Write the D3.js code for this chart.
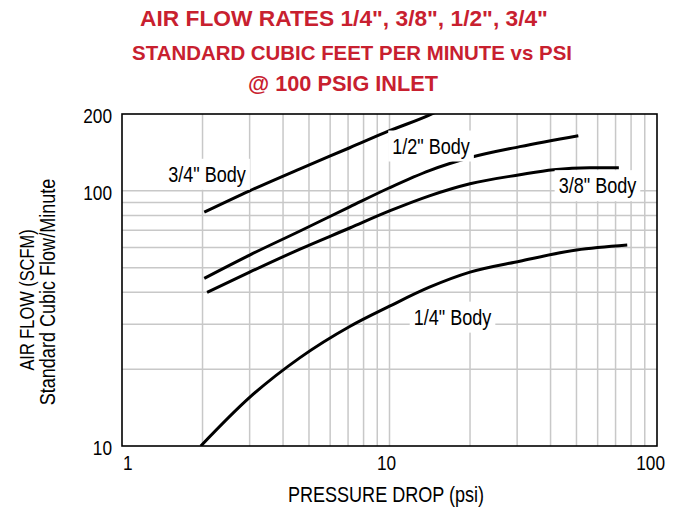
<!DOCTYPE html>
<html><head><meta charset="utf-8">
<script src="https://cdn.jsdelivr.net/npm/d3@7"></script>
<style>body{margin:0;background:#fff}</style>
</head><body>
<svg id="chart" width="681" height="507"></svg>
<script>
// ---------- data ----------
const titleLines = ['AIR FLOW RATES 1/4", 3/8", 1/2", 3/4"',
                    'STANDARD CUBIC FEET PER MINUTE vs PSI',
                    '@ 100 PSIG INLET'];
const xTickValues = [1, 10, 100];
const yTickValues = [10, 100, 200];
const xGridValues = [2,3,4,5,6,7,8,9,10,20,30,40,50,60,70,80,90];
const yGridValues = [20,30,40,50,60,70,80,90,100];
const xTitle = "PRESSURE DROP (psi)";
const yTitle1 = "AIR FLOW (SCFM)";
const yTitle2 = "Standard Cubic Flow/Minute";

const seriesNames = ['3/4" Body', '1/2" Body', '3/8" Body', '1/4" Body'];
const body34 = [[2.03,82.5],[3,100],[4.63,122],[7.1,147.5],[10,172],[14.8,203],[16,212]];
const body12 = [[2.03,45.4],[3,56],[4.63,69.6],[7.1,86.5],[10,102.8],[14.1,120],[20,135],[30.7,149],[50.8,164.5]];
const body38 = [[2.08,40],[3,48],[4.63,59.1],[7.1,71.5],[10,83.4],[14.1,95.6],[20,106.6],[30.7,115.6],[41,121],[56,123.2],[72,123.2]];
const body14 = [[1.97,10],[3,15.5],[4.63,22.2],[7.1,29.4],[10,35.3],[14.1,41.9],[20,48],[30.7,53],[50,58.6],[77.4,61.3]];
const seriesData = [body34, body12, body38, body14];
// label anchor (centre x, baseline y) in data units
const labelX = [2.08, 14.3, 59.9, 17.2];
const labelY = [108.5, 140, 97.9, 29.9];

// ---------- setup ----------
const svg = d3.select("#chart");
const W = 681, H = 507;
const x = d3.scaleLog().domain([1,100]).range([122,657]);
const y = d3.scaleLog().domain([10,200]).range([446,114]);

// narrow font detection
const cv = document.createElement("canvas").getContext("2d");
cv.font = '22px "Liberation Sans Narrow", monospace';
const wN = cv.measureText("Standard Body").width;
cv.font = '22px monospace';
const wM = cv.measureText("Standard Body").width;
const narrowOK = Math.abs(wN - wM) > 0.5;
const FONT = narrowOK ? '"Liberation Sans Narrow", "Arial Narrow", sans-serif' : '"Liberation Sans", Arial, sans-serif';
function narrowize(sel){
  if (narrowOK) return;
  sel.each(function(){
    const w = this.getComputedTextLength();
    d3.select(this).attr("textLength", w*0.82).attr("lengthAdjust","spacingAndGlyphs");
  });
}

svg.append("rect").attr("width",W).attr("height",H).attr("fill","#fff");

// title (font size adjusted so each line spans about the reference width)
const titleWidths = [408, 440, 190];
svg.append("g").selectAll("text").data(titleLines).join("text")
  .attr("x", (d,i)=>[344,352,343][i]).attr("y", (d,i)=>[26,60,91][i])
  .attr("text-anchor","middle")
  .attr("font-family", FONT).attr("font-weight","bold").attr("font-size",26)
  .attr("fill","#c8202f")
  .text(d=>d)
  .each(function(d,i){
    const w = this.getComputedTextLength();
    if (w > titleWidths[i] + 2)
      d3.select(this).attr("font-size", (26 * titleWidths[i] / w).toFixed(2));
  });

// grid
const grid = svg.append("g").attr("stroke","#c8c8c8").attr("stroke-width",1.5);
grid.selectAll(".vx").data(xGridValues).join("line")
  .attr("x1",d=>x(d)).attr("x2",d=>x(d)).attr("y1",y(200)).attr("y2",y(10));
grid.selectAll(".hy").data(yGridValues).join("line")
  .attr("y1",d=>y(d)).attr("y2",d=>y(d)).attr("x1",x(1)).attr("x2",x(100));

// clip
svg.append("clipPath").attr("id","plot").append("rect")
  .attr("x",x(1)).attr("y",y(200)).attr("width",x(100)-x(1)).attr("height",y(10)-y(200));

// curves
const line = d3.line().x(d=>x(d[0])).y(d=>y(d[1])).curve(d3.curveMonotoneX);
svg.append("g").attr("clip-path","url(#plot)").selectAll("path").data(seriesData).join("path")
  .attr("d", line).attr("fill","none").attr("stroke","#000").attr("stroke-width",3);

// labels with white background
const lg = svg.append("g");
seriesNames.forEach((name,i)=>{
  const g = lg.append("g");
  const r = g.append("rect").attr("fill","#fff");
  const t = g.append("text")
    .attr("x", x(labelX[i])).attr("y", y(labelY[i]))
    .attr("text-anchor","middle")
    .attr("font-family", FONT).attr("font-size",22).attr("fill","#000")
    .text(name).call(narrowize);
  const b = t.node().getBBox();
  r.attr("x", b.x-4).attr("y", b.y-3).attr("width", b.width+8).attr("height", b.height+6);
});

// frame
svg.append("rect").attr("x",x(1)).attr("y",y(200))
  .attr("width",x(100)-x(1)).attr("height",y(10)-y(200))
  .attr("fill","none").attr("stroke","#000").attr("stroke-width",1.6);

// tick labels
svg.append("g").selectAll("text").data(xTickValues).join("text")
  .attr("x",(d,i)=> x(d) + (i===0?1:(i===xTickValues.length-1?8:-3)))
  .attr("y", 470)
  .attr("text-anchor",(d,i)=> i===0?"start":(i===xTickValues.length-1?"end":"middle"))
  .attr("font-family",FONT).attr("font-size",21).text(d=>d).call(narrowize);
svg.append("g").selectAll("text").data(yTickValues).join("text")
  .attr("x", 112).attr("y", d=>y(d)+9)
  .attr("text-anchor","end")
  .attr("font-family",FONT).attr("font-size",21).text(d=>d).call(narrowize);

// axis titles
svg.append("text").attr("x",386).attr("y",502).attr("text-anchor","middle")
  .attr("font-family",FONT).attr("font-size",22).text(xTitle).call(narrowize);
svg.append("text").attr("transform","translate(34,300) rotate(-90)").attr("text-anchor","middle")
  .attr("font-family",FONT).attr("font-size",20).text(yTitle1).call(narrowize);
svg.append("text").attr("transform","translate(55,292) rotate(-90)").attr("text-anchor","middle")
  .attr("font-family",FONT).attr("font-size",22).text(yTitle2).call(narrowize);
</script>
</body></html>
